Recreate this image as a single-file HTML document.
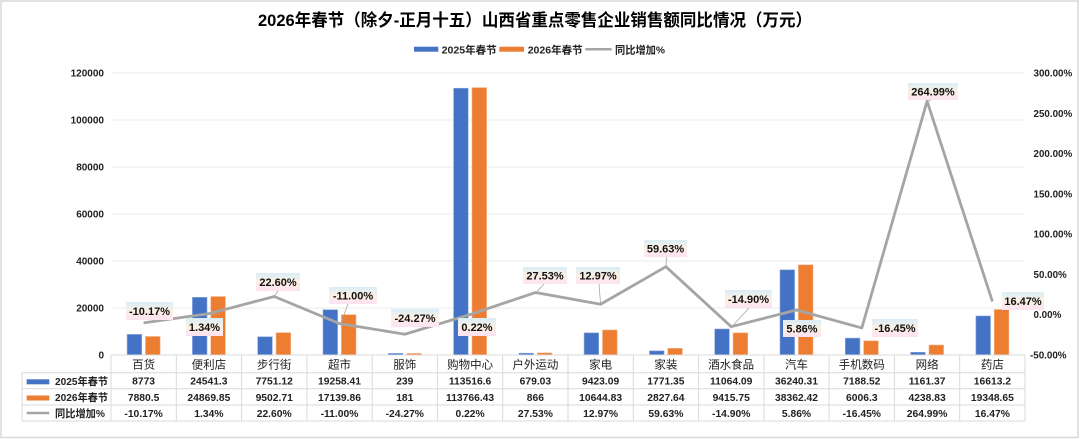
<!DOCTYPE html>
<html><head><meta charset="utf-8"><style>
html,body{margin:0;padding:0;background:#fff;}
svg{display:block;}
text{font-family:"Liberation Sans","Noto Sans CJK SC",sans-serif;}
.b{font-weight:bold;}
</style></head><body>
<svg width="1080" height="439" viewBox="0 0 1080 439" xmlns="http://www.w3.org/2000/svg">
<defs>
<linearGradient id="lg" x1="0" y1="0" x2="0" y2="1">
<stop offset="0" stop-color="#d9eef8"/>
<stop offset="0.5" stop-color="#fdf0e2"/>
<stop offset="1" stop-color="#fde2f3"/>
</linearGradient>
</defs>
<rect x="0" y="0" width="1080" height="439" fill="#fff"/>
<rect x="1" y="1" width="1077" height="436.5" fill="none" stroke="#d9d9d9" stroke-width="1.5"/>

<text x="258" y="26" font-size="17" class="b" fill="#000" textLength="554" lengthAdjust="spacingAndGlyphs">2026年春节（除夕-正月十五）山西省重点零售企业销售额同比情况（万元）</text>

<!-- legend -->
<rect x="414" y="46.7" width="24.3" height="5" fill="#4472c4"/>
<text x="441.7" y="53.3" font-size="10.5" class="b" fill="#222" textLength="55" lengthAdjust="spacingAndGlyphs">2025年春节</text>
<rect x="499.3" y="46.7" width="24.7" height="5" fill="#ed7d31"/>
<text x="527.7" y="53.3" font-size="10.5" class="b" fill="#222" textLength="55" lengthAdjust="spacingAndGlyphs">2026年春节</text>
<line x1="585.3" y1="49.2" x2="611.7" y2="49.2" stroke="#a5a5a5" stroke-width="2.5"/>
<text x="615" y="53.3" font-size="10.5" class="b" fill="#222" textLength="50" lengthAdjust="spacingAndGlyphs">同比增加%</text>

<!-- gridlines -->
<g stroke="#ebebeb" stroke-width="1">
<line x1="111" y1="73" x2="1025" y2="73"/>
<line x1="111" y1="120" x2="1025" y2="120"/>
<line x1="111" y1="167" x2="1025" y2="167"/>
<line x1="111" y1="214" x2="1025" y2="214"/>
<line x1="111" y1="261" x2="1025" y2="261"/>
<line x1="111" y1="308" x2="1025" y2="308"/>
</g>

<!-- left axis -->
<g font-size="10" class="b" fill="#222" text-anchor="end">
<text x="104" y="76.5">120000</text>
<text x="104" y="123.5">100000</text>
<text x="104" y="170.5">80000</text>
<text x="104" y="217.5">60000</text>
<text x="104" y="264.5">40000</text>
<text x="104" y="311.5">20000</text>
<text x="104" y="358.5">0</text>
</g>
<!-- right axis -->
<g font-size="9.8" class="b" fill="#222">
<text x="1033.5" y="76.5">300.00%</text>
<text x="1033.5" y="116.8">250.00%</text>
<text x="1033.5" y="157.1">200.00%</text>
<text x="1033.5" y="197.4">150.00%</text>
<text x="1033.5" y="237.6">100.00%</text>
<text x="1033.5" y="277.9">50.00%</text>
<text x="1033.5" y="318.2">0.00%</text>
<text x="1030" y="358.5">-50.00%</text>
</g>

<!-- bars -->
<g fill="#4472c4" stroke="#8faadc" stroke-width="0.6">
<rect x="127.1" y="334.38" width="14.6" height="20.62"/>
<rect x="192.4" y="297.33" width="14.6" height="57.67"/>
<rect x="257.7" y="336.78" width="14.6" height="18.22"/>
<rect x="323.0" y="309.74" width="14.6" height="45.26"/>
<rect x="388.3" y="353.4" width="14.6" height="1.6"/>
<rect x="453.6" y="88.24" width="14.6" height="266.76"/>
<rect x="518.9" y="353.2" width="14.6" height="1.8"/>
<rect x="584.1" y="332.86" width="14.6" height="22.14"/>
<rect x="649.4" y="350.84" width="14.6" height="4.16"/>
<rect x="714.7" y="329.0" width="14.6" height="26.0"/>
<rect x="780.0" y="269.84" width="14.6" height="85.16"/>
<rect x="845.3" y="338.11" width="14.6" height="16.89"/>
<rect x="910.6" y="352.27" width="14.6" height="2.73"/>
<rect x="975.9" y="315.96" width="14.6" height="39.04"/>
</g>
<g fill="#ed7d31" stroke="#f4b183" stroke-width="0.6">
<rect x="145.5" y="336.48" width="14.6" height="18.52"/>
<rect x="210.8" y="296.56" width="14.6" height="58.44"/>
<rect x="276.1" y="332.67" width="14.6" height="22.33"/>
<rect x="341.4" y="314.72" width="14.6" height="40.28"/>
<rect x="406.7" y="353.5" width="14.6" height="1.5"/>
<rect x="472.0" y="87.65" width="14.6" height="267.35"/>
<rect x="537.3" y="352.96" width="14.6" height="2.04"/>
<rect x="602.5" y="329.98" width="14.6" height="25.02"/>
<rect x="667.8" y="348.36" width="14.6" height="6.64"/>
<rect x="733.1" y="332.87" width="14.6" height="22.13"/>
<rect x="798.4" y="264.85" width="14.6" height="90.15"/>
<rect x="863.7" y="340.89" width="14.6" height="14.11"/>
<rect x="929.0" y="345.04" width="14.6" height="9.96"/>
<rect x="994.3" y="309.53" width="14.6" height="45.47"/>
</g>

<!-- line -->
<polyline fill="none" stroke="#a5a5a5" stroke-width="2.8" stroke-linejoin="round"
points="143.6,322.89 208.9,313.62 274.2,296.49 339.5,323.56 404.8,334.25 470.1,314.52 535.4,292.52 600.6,304.25 665.9,266.66 731.2,326.70 796.5,309.98 861.8,327.95 927.1,101.19 992.4,301.43"/>

<!-- leader lines -->
<g stroke="#a5a5a5" stroke-width="0.8" fill="none">
<line x1="278" y1="291" x2="274.2" y2="296.5"/>
<line x1="348" y1="304" x2="341" y2="323"/>
<line x1="544" y1="284" x2="536.5" y2="292"/>
<line x1="599" y1="284" x2="600.6" y2="304"/>
<line x1="666.5" y1="257" x2="665.9" y2="266.6"/>
<line x1="749" y1="308" x2="732" y2="326.5"/>
<line x1="931" y1="100" x2="927.5" y2="101.5"/>
</g>

<!-- data labels -->
<g fill="url(#lg)">
<rect x="126" y="302" width="47" height="18"/>
<rect x="186" y="318" width="37" height="18"/>
<rect x="256" y="273" width="44" height="18"/>
<rect x="329" y="287" width="48" height="17"/>
<rect x="391" y="309" width="48" height="18"/>
<rect x="458" y="318" width="38" height="18"/>
<rect x="523" y="267" width="44" height="17"/>
<rect x="576" y="267" width="44" height="17"/>
<rect x="644" y="240" width="43" height="17"/>
<rect x="725" y="290" width="47" height="18"/>
<rect x="783" y="320" width="38" height="17"/>
<rect x="872" y="319" width="46" height="18"/>
<rect x="908" y="83" width="50" height="17"/>
<rect x="1002" y="292" width="42" height="18"/>
</g>
<g font-size="11" class="b" fill="#111" text-anchor="middle">
<text x="149.5" y="315">-10.17%</text>
<text x="204.5" y="331">1.34%</text>
<text x="278" y="286">22.60%</text>
<text x="353" y="299.5">-11.00%</text>
<text x="415" y="322">-24.27%</text>
<text x="477" y="331">0.22%</text>
<text x="545" y="279.5">27.53%</text>
<text x="598" y="279.5">12.97%</text>
<text x="665.5" y="252.5">59.63%</text>
<text x="748.5" y="303">-14.90%</text>
<text x="802" y="332.5">5.86%</text>
<text x="895" y="332">-16.45%</text>
<text x="933" y="95.5">264.99%</text>
<text x="1023" y="305">16.47%</text>
</g>

<!-- table grid -->
<g stroke="#d9d9d9" stroke-width="1" fill="none">
<line x1="111" y1="355" x2="1025" y2="355"/>
<line x1="22" y1="372.7" x2="1025" y2="372.7"/>
<line x1="22" y1="388.8" x2="1025" y2="388.8"/>
<line x1="22" y1="405" x2="1025" y2="405"/>
<line x1="22" y1="421" x2="1025" y2="421"/>
<line x1="22" y1="372.7" x2="22" y2="421"/>
<line x1="111" y1="355" x2="111" y2="421"/>
<line x1="176.3" y1="355" x2="176.3" y2="421"/>
<line x1="241.6" y1="355" x2="241.6" y2="421"/>
<line x1="306.9" y1="355" x2="306.9" y2="421"/>
<line x1="372.2" y1="355" x2="372.2" y2="421"/>
<line x1="437.4" y1="355" x2="437.4" y2="421"/>
<line x1="502.7" y1="355" x2="502.7" y2="421"/>
<line x1="568.0" y1="355" x2="568.0" y2="421"/>
<line x1="633.3" y1="355" x2="633.3" y2="421"/>
<line x1="698.6" y1="355" x2="698.6" y2="421"/>
<line x1="763.9" y1="355" x2="763.9" y2="421"/>
<line x1="829.1" y1="355" x2="829.1" y2="421"/>
<line x1="894.4" y1="355" x2="894.4" y2="421"/>
<line x1="959.7" y1="355" x2="959.7" y2="421"/>
<line x1="1025" y1="355" x2="1025" y2="421"/>
</g>

<!-- table legend keys -->
<rect x="26.7" y="379.3" width="22.6" height="5" fill="#4472c4"/>
<text x="55" y="385" font-size="10.5" class="b" fill="#222" textLength="53" lengthAdjust="spacingAndGlyphs">2025年春节</text>
<rect x="26.7" y="395.5" width="22.6" height="5" fill="#ed7d31"/>
<text x="55" y="401.2" font-size="10.5" class="b" fill="#222" textLength="53" lengthAdjust="spacingAndGlyphs">2026年春节</text>
<line x1="26.7" y1="413" x2="49.3" y2="413" stroke="#a5a5a5" stroke-width="2.5"/>
<text x="55" y="417.2" font-size="10.5" class="b" fill="#222" textLength="50" lengthAdjust="spacingAndGlyphs">同比增加%</text>

<!-- category names -->
<g font-size="11.5" fill="#222" text-anchor="middle">
<text x="143.6" y="368.5">百货</text>
<text x="208.9" y="368.5">便利店</text>
<text x="274.2" y="368.5">步行街</text>
<text x="339.5" y="368.5">超市</text>
<text x="404.8" y="368.5">服饰</text>
<text x="470.1" y="368.5">购物中心</text>
<text x="535.4" y="368.5">户外运动</text>
<text x="600.6" y="368.5">家电</text>
<text x="665.9" y="368.5">家装</text>
<text x="731.2" y="368.5">酒水食品</text>
<text x="796.5" y="368.5">汽车</text>
<text x="861.8" y="368.5">手机数码</text>
<text x="927.1" y="368.5">网络</text>
<text x="992.4" y="368.5">药店</text>
</g>

<g font-size="10.3" class="b" fill="#222" text-anchor="middle">
<text x="143.6" y="384.6">8773</text>
<text x="208.9" y="384.6">24541.3</text>
<text x="274.2" y="384.6">7751.12</text>
<text x="339.5" y="384.6">19258.41</text>
<text x="404.8" y="384.6">239</text>
<text x="470.1" y="384.6">113516.6</text>
<text x="535.4" y="384.6">679.03</text>
<text x="600.6" y="384.6">9423.09</text>
<text x="665.9" y="384.6">1771.35</text>
<text x="731.2" y="384.6">11064.09</text>
<text x="796.5" y="384.6">36240.31</text>
<text x="861.8" y="384.6">7188.52</text>
<text x="927.1" y="384.6">1161.37</text>
<text x="992.4" y="384.6">16613.2</text>

<text x="143.6" y="400.8">7880.5</text>
<text x="208.9" y="400.8">24869.85</text>
<text x="274.2" y="400.8">9502.71</text>
<text x="339.5" y="400.8">17139.86</text>
<text x="404.8" y="400.8">181</text>
<text x="470.1" y="400.8">113766.43</text>
<text x="535.4" y="400.8">866</text>
<text x="600.6" y="400.8">10644.83</text>
<text x="665.9" y="400.8">2827.64</text>
<text x="731.2" y="400.8">9415.75</text>
<text x="796.5" y="400.8">38362.42</text>
<text x="861.8" y="400.8">6006.3</text>
<text x="927.1" y="400.8">4238.83</text>
<text x="992.4" y="400.8">19348.65</text>

<text x="143.6" y="416.9">-10.17%</text>
<text x="208.9" y="416.9">1.34%</text>
<text x="274.2" y="416.9">22.60%</text>
<text x="339.5" y="416.9">-11.00%</text>
<text x="404.8" y="416.9">-24.27%</text>
<text x="470.1" y="416.9">0.22%</text>
<text x="535.4" y="416.9">27.53%</text>
<text x="600.6" y="416.9">12.97%</text>
<text x="665.9" y="416.9">59.63%</text>
<text x="731.2" y="416.9">-14.90%</text>
<text x="796.5" y="416.9">5.86%</text>
<text x="861.8" y="416.9">-16.45%</text>
<text x="927.1" y="416.9">264.99%</text>
<text x="992.4" y="416.9">16.47%</text>
</g>
</svg>
</body></html>
